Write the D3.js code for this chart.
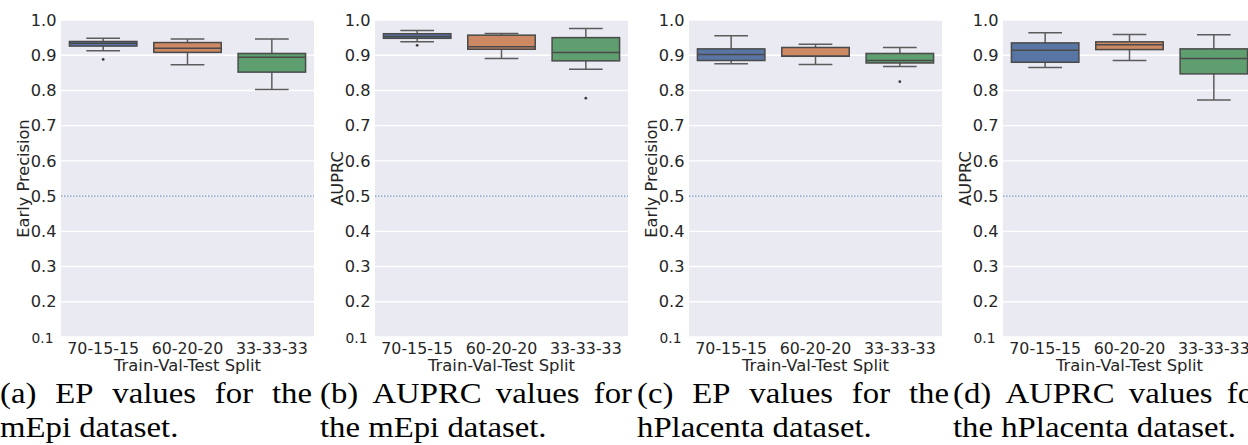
<!DOCTYPE html>
<html>
<head>
<meta charset="utf-8">
<script src="https://cdn.jsdelivr.net/npm/d3@7/dist/d3.min.js"></script>
<style>
  body { margin: 0; background: #ffffff; }
  svg { display: block; }
</style>
</head>
<body>
<svg id="fig" width="1248" height="445"></svg>
<script>
// Train/validation/test split settings on the x axis
const splits = ["70-15-15", "60-20-20", "33-33-33"];
const yTicks = [0.1, 0.2, 0.3, 0.4, 0.5, 0.6, 0.7, 0.8, 0.9, 1.0];
const baseline = 0.5;

// Box summaries per split: [lower whisker, Q1, median, Q3, upper whisker]
const epMepi = [
  [0.913, 0.926, 0.934, 0.939, 0.948],
  [0.873, 0.908, 0.920, 0.936, 0.946],
  [0.803, 0.852, 0.894, 0.905, 0.946]
];
const epMepiOutliers = [[0.888], [], []];

const auprcMepi = [
  [0.938, 0.948, 0.953, 0.961, 0.970],
  [0.891, 0.917, 0.924, 0.957, 0.962],
  [0.860, 0.884, 0.908, 0.950, 0.976]
];
const auprcMepiOutliers = [[0.928], [], [0.778]];

const epHplacenta = [
  [0.876, 0.885, 0.902, 0.918, 0.955],
  [0.874, 0.897, 0.897, 0.922, 0.931],
  [0.868, 0.878, 0.885, 0.905, 0.922]
];
const epHplacentaOutliers = [[], [], [0.825]];

const auprcHplacenta = [
  [0.865, 0.880, 0.914, 0.935, 0.964],
  [0.885, 0.916, 0.930, 0.938, 0.959],
  [0.773, 0.847, 0.891, 0.918, 0.958]
];
const auprcHplacentaOutliers = [[], [], []];

const yLabels = ["Early Precision", "AUPRC", "Early Precision", "AUPRC"];
const captionFirst = [
  ["(a)", "EP", "values", "for", "the"],
  ["(b)", "AUPRC", "values", "for"],
  ["(c)", "EP", "values", "for", "the"],
  ["(d)", "AUPRC", "values", "for"]
];
const captionSecond = [
  "mEpi dataset.",
  "the mEpi dataset.",
  "hPlacenta dataset.",
  "the hPlacenta dataset."
];

const boxColors = ["#5875a4", "#cc8963", "#5f9e6e"];
const lineColor = "#4a4a4a";
const whiskerColor = "#5c5c5c";
const textColor = "#262626";

const panelData = [
  { stats: epMepi, outliers: epMepiOutliers },
  { stats: auprcMepi, outliers: auprcMepiOutliers },
  { stats: epHplacenta, outliers: epHplacentaOutliers },
  { stats: auprcHplacenta, outliers: auprcHplacentaOutliers }
];

const svg = d3.select("#fig");

const plotLefts = [61, 375, 689, 1003];
const plotW = 253, plotTop = 20, plotBottom = 337;

const y = d3.scaleLinear().domain([0.1, 1.0]).range([plotBottom, plotTop]);

panelData.forEach((p, i) => {
  const left = plotLefts[i];
  const g = svg.append("g");
  const x = d3.scaleBand().domain(splits).range([left, left + plotW]).padding(0);
  const bw = x.bandwidth() * 0.8;

  // plot background
  g.append("rect")
    .attr("x", left).attr("y", plotTop)
    .attr("width", plotW).attr("height", plotBottom - plotTop)
    .attr("fill", "#eaeaf2");

  // horizontal grid
  g.append("g").selectAll("line").data(yTicks).join("line")
    .attr("x1", left).attr("x2", left + plotW)
    .attr("y1", d => y(d)).attr("y2", d => y(d))
    .attr("stroke", "#ffffff").attr("stroke-width", 1.4);

  // y tick labels
  const yAxis = d3.axisLeft(y).tickValues(yTicks).tickFormat(d3.format(".1f")).tickSize(0).tickPadding(4.5);
  const ya = g.append("g").attr("transform", `translate(${left},0)`).call(yAxis);
  ya.select(".domain").remove();
  ya.selectAll("text")
    .attr("fill", textColor)
    .style("font-family", "DejaVu Sans")
    .style("font-size", "16.2px");
  // lowest tick label is smaller and sits a little lower
  ya.selectAll(".tick").filter(d => d === 0.1).select("text")
    .style("font-size", "13.8px")
    .attr("x", -7.5)
    .attr("dy", "0.42em");

  // x tick labels
  const xAxis = d3.axisBottom(x).tickSize(0).tickPadding(5);
  const xa = g.append("g").attr("transform", `translate(0,${plotBottom})`).call(xAxis);
  xa.select(".domain").remove();
  xa.selectAll("text")
    .attr("fill", textColor)
    .attr("y", 17).attr("dy", 0)
    .style("font-family", "DejaVu Sans")
    .style("font-size", "15.8px");

  // axis titles
  g.append("text")
    .attr("x", left + plotW / 2).attr("y", 371)
    .attr("text-anchor", "middle")
    .attr("fill", textColor)
    .style("font-family", "DejaVu Sans").style("font-size", "16.4px")
    .text("Train-Val-Test Split");

  g.append("text")
    .attr("transform", `translate(${left - 32},${(plotTop + plotBottom) / 2}) rotate(-90)`)
    .attr("text-anchor", "middle")
    .attr("fill", textColor)
    .style("font-family", "DejaVu Sans").style("font-size", "16.2px")
    .text(yLabels[i]);

  // reference line at 0.5
  g.append("line")
    .attr("x1", left).attr("x2", left + plotW)
    .attr("y1", y(baseline)).attr("y2", y(baseline))
    .attr("stroke", "#4c72b0").attr("stroke-width", 1)
    .attr("stroke-dasharray", "1.5,1.5");

  // boxes
  p.stats.forEach((s, k) => {
    const [lo, q1, med, q3, hi] = s;
    const cx = x(splits[k]) + x.bandwidth() / 2;
    const bg = g.append("g");
    // whiskers
    bg.append("line").attr("x1", cx).attr("x2", cx).attr("y1", y(q3)).attr("y2", y(hi))
      .attr("stroke", whiskerColor).attr("stroke-width", 1.5);
    bg.append("line").attr("x1", cx).attr("x2", cx).attr("y1", y(q1)).attr("y2", y(lo))
      .attr("stroke", whiskerColor).attr("stroke-width", 1.5);
    // caps
    [lo, hi].forEach(v => {
      bg.append("line").attr("x1", cx - bw / 4).attr("x2", cx + bw / 4)
        .attr("y1", y(v)).attr("y2", y(v))
        .attr("stroke", whiskerColor).attr("stroke-width", 1.5);
    });
    // box
    bg.append("rect")
      .attr("x", cx - bw / 2).attr("y", y(q3))
      .attr("width", bw).attr("height", Math.max(0, y(q1) - y(q3)))
      .attr("fill", boxColors[k])
      .attr("stroke", lineColor).attr("stroke-width", 1.5);
    // median
    bg.append("line").attr("x1", cx - bw / 2).attr("x2", cx + bw / 2)
      .attr("y1", y(med)).attr("y2", y(med))
      .attr("stroke", lineColor).attr("stroke-width", 1.5);
    // outliers
    bg.selectAll("circle").data(p.outliers[k]).join("circle")
      .attr("cx", cx).attr("cy", d => y(d)).attr("r", 1.4)
      .attr("fill", "#3d3d3d");
  });
});

// captions, set in a serif face, first line justified to the column width
const capStarts = [0, 320, 637, 953];
const capWidth = 312;
const capScale = 1.13;
const capFont = "Liberation Serif";
const capSize = 29;

const measure = svg.append("text")
  .style("font-family", capFont).style("font-size", capSize + "px");

captionFirst.forEach((words, i) => {
  const widths = words.map(w => { measure.text(w); return measure.node().getComputedTextLength(); });
  const avail = capWidth / capScale;
  const total = d3.sum(widths);
  const gap = (avail - total) / (words.length - 1);
  const g = svg.append("g").attr("transform", `translate(${capStarts[i]},403) scale(${capScale},1)`);
  let pos = 0;
  words.forEach((w, j) => {
    g.append("text").attr("x", pos).attr("y", 0)
      .attr("fill", "#000")
      .style("font-family", capFont).style("font-size", capSize + "px")
      .text(w);
    pos += widths[j] + gap;
  });
  svg.append("g").attr("transform", `translate(${capStarts[i]},437) scale(${capScale},1)`)
    .append("text").attr("x", 0).attr("y", 0)
    .attr("fill", "#000")
    .style("font-family", capFont).style("font-size", capSize + "px")
    .text(captionSecond[i]);
});
measure.remove();
</script>
</body>
</html>
